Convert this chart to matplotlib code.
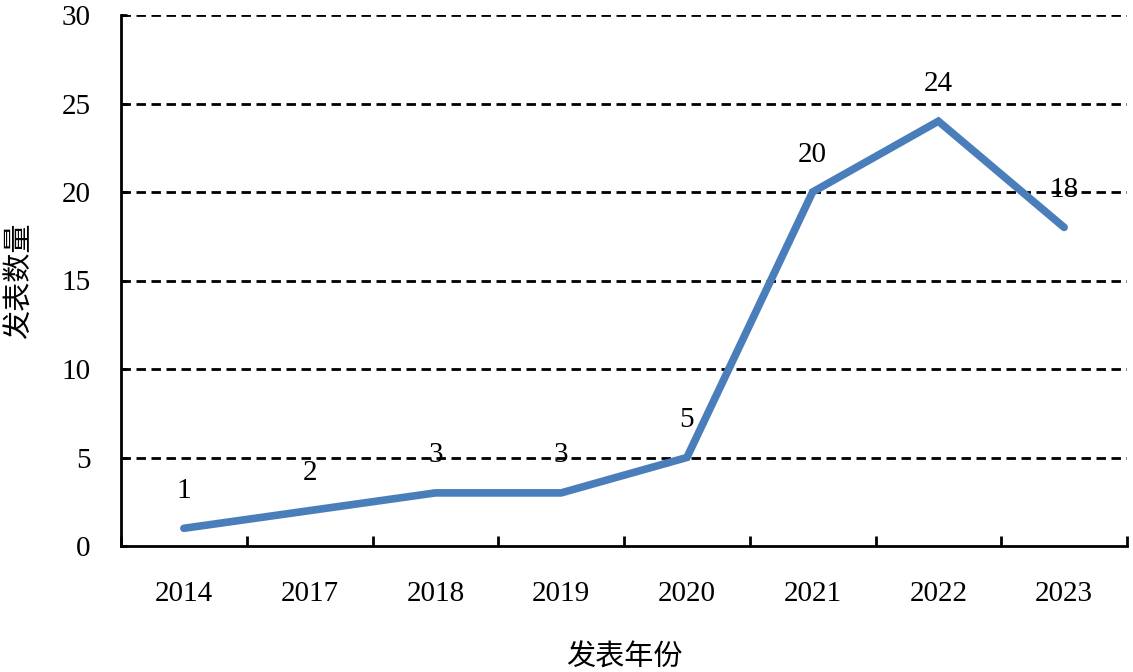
import matplotlib
matplotlib.use("Agg")
import matplotlib.pyplot as plt
import numpy as np

years = ["2014", "2017", "2018", "2019", "2020", "2021", "2022", "2023"]
counts = [1, 2, 3, 3, 5, 20, 24, 18]
y_ticks = [0, 5, 10, 15, 20, 25, 30]
x_title = "发表年份"
y_title = "发表数量"

plt.rcParams['font.family'] = ['Liberation Serif', 'Noto Sans CJK SC']

fig = plt.figure(figsize=(11.33, 6.72), dpi=100)
ax = fig.add_axes([121/1133, 1 - 546/672, (1127-121)/1133, (546-15)/672])

x = np.arange(len(years))
ax.set_xlim(-0.5, len(years) - 0.5)
ax.set_ylim(0, 30)

for yv in y_ticks[1:]:
    ax.axhline(yv, color='black', lw=2, linestyle=(0, (3.4, 2.0)), zorder=1)

ax.plot(x, counts, color='#4A7EBB', lw=5.5, solid_capstyle='round',
        solid_joinstyle='miter', zorder=3)

for xi, v in zip(x, counts):
    ax.annotate(str(v), (xi, v), xytext=(0, 27), textcoords='offset points',
                ha='center', va='center', fontsize=21, zorder=4)

for s in ['top', 'right']:
    ax.spines[s].set_visible(False)
for s in ['left', 'bottom']:
    ax.spines[s].set_linewidth(2)
    ax.spines[s].set_zorder(5)

ax.set_yticks(y_ticks)
ax.set_yticklabels([str(t) for t in y_ticks], fontsize=21)
ax.tick_params(axis='y', direction='in', length=4, width=2, pad=22)

ax.set_xticks(np.arange(len(years) + 1) - 0.5)
ax.set_xticklabels([])
ax.tick_params(axis='x', which='major', direction='in', length=7, width=2)
ax.set_xticks(x, minor=True)
ax.set_xticklabels(years, minor=True, fontsize=21)
ax.tick_params(axis='x', which='minor', length=0, pad=25)

ax.set_xlabel(x_title, fontsize=21)
ax.set_ylabel(y_title, fontsize=21)
ax.xaxis.set_label_coords(0.5, -0.185)
ax.yaxis.set_label_coords(-0.087, 0.5)

fig.savefig("out.png", dpi=100)
